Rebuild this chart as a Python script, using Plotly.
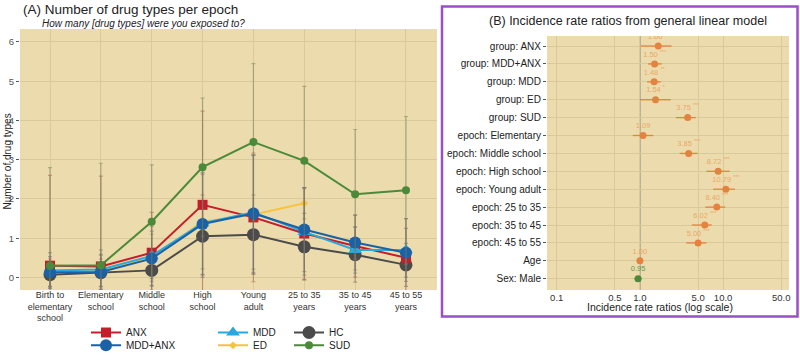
import plotly.graph_objects as go

# ---------------- Panel A data ----------------
epochs = ["Birth to<br>elementary<br>school", "Elementary<br>school", "Middle<br>school",
          "High<br>school", "Young<br>adult", "25 to 35<br>years", "35 to 45<br>years",
          "45 to 55<br>years"]

anx_mean = [0.30, 0.28, 0.63, 1.85, 1.53, 1.12, 0.80, 0.50]
anx_sd = [2.30, 2.30, 1.03, 2.39, 1.64, 1.17, 0.79, 1.00]

mddanx_mean = [0.13, 0.14, 0.48, 1.36, 1.63, 1.22, 0.89, 0.63]
mddanx_sd = [0.40, 0.45, 0.70, 1.30, 1.50, 1.07, 0.70, 0.62]

mdd_mean = [0.18, 0.20, 0.55, 1.38, 1.66, 1.16, 0.70, 0.70]
mdd_sd = [0.45, 0.50, 0.75, 1.30, 1.45, 1.10, 0.59, 0.80]

ed_mean = [0.12, 0.16, 0.50, 1.42, 1.60, 1.89, None, None]
ed_sd = [0.35, 0.40, 0.60, 1.20, 1.50, 0.40, None, None]

hc_mean = [0.07, 0.12, 0.18, 1.05, 1.09, 0.78, 0.58, 0.32]
hc_sd = [0.30, 0.35, 0.50, 1.05, 1.01, 0.85, 0.70, 0.55]

sud_mean = [0.30, 0.31, 1.42, 2.81, 3.45, 2.97, 2.12, 2.22]
sud_sd = [2.50, 2.60, 1.45, 1.76, 2.00, 1.90, 1.65, 1.88]

y_ticks_a = [0, 1, 2, 3, 4, 5, 6]

# ---------------- Panel B data ----------------
irr_terms = ["group: ANX", "group: MDD+ANX", "group: MDD", "group: ED", "group: SUD",
             "epoch: Elementary", "epoch: Middle school", "epoch: High school",
             "epoch: Young adult", "epoch: 25 to 35", "epoch: 35 to 45", "epoch: 45 to 55",
             "Age", "Sex: Male"]
irr_est = [1.66, 1.50, 1.48, 1.54, 3.75, 1.09, 3.85, 8.72, 10.79, 8.40, 6.02, 5.00, 1.00, 0.95]
irr_low = [1.02, 1.25, 1.22, 1.00, 2.70, 0.82, 3.00, 6.30, 7.60, 6.10, 4.20, 3.60, 0.97, 0.85]
irr_high = [2.40, 1.83, 1.78, 2.35, 4.70, 1.45, 4.95, 12.0, 13.9, 10.6, 7.30, 6.30, 1.03, 1.06]
irr_sig = ["**", "***", "**", "*", "***", "", "***", "***", "***", "***", "***", "***", "", ""]
irr_ticks = [0.1, 0.5, 1.0, 5.0, 10.0, 50.0]
irr_ticktext = ["0.1", "0.5", "1.0", "5.0", "10.0", "50.0"]

W, H = 800, 362
FONT = "Liberation Sans, Arial, sans-serif"
BG = "#ecdcad"
GRID = "#d9c99b"


def px(x):
    return x / W


def py(y):
    return 1 - y / H


fig = go.Figure()

series = [
    # name, mean, sd, color, symbol, size, error color, legend
    ("ED", ed_mean, ed_sd, "#f6c340", "diamond", 6, "rgba(150,140,100,0.55)", "legend4"),
    ("HC", hc_mean, hc_sd, "#4b4b4b", "circle", 13, "rgba(115,110,100,0.55)", "legend5"),
    ("ANX", anx_mean, anx_sd, "#c41e2a", "square", 10, "rgba(165,95,80,0.55)", "legend"),
    ("MDD", mdd_mean, mdd_sd, "#29a8df", "triangle-up", 12, "rgba(120,125,120,0.55)", "legend3"),
    ("MDD+ANX", mddanx_mean, mddanx_sd, "#1b61a6", "circle", 12, "rgba(115,115,115,0.55)", "legend2"),
    ("SUD", sud_mean, sud_sd, "#4b8a3b", "circle", 8, "rgba(120,130,95,0.55)", "legend6"),
]

for name, mean, sd, color, symbol, size, ecol, leg in series:
    fig.add_trace(go.Scatter(
        x=epochs, y=mean, name=name, mode="lines+markers",
        line=dict(color=color, width=2),
        marker=dict(color=color, symbol=symbol, size=size),
        error_y=dict(type="data", array=sd, visible=True, color=ecol, thickness=1.2, width=2),
        xaxis="x", yaxis="y", legend=leg, connectgaps=False,
    ))

# Panel B points
pt_colors = ["#e5823f"] * (len(irr_terms) - 1) + ["#4b8a3b"]
lbl_colors = ["#eba768"] * (len(irr_terms) - 1) + ["#5f9a4f"]
labels = [f"{v:.2f}" + (f" <sup>{s}</sup>" if s else "") for v, s in zip(irr_est, irr_sig)]
fig.add_trace(go.Scatter(
    x=irr_est, y=irr_terms, mode="markers+text", showlegend=False,
    marker=dict(color=pt_colors, size=7),
    text=labels, textposition="top center",
    textfont=dict(size=7.5, color=lbl_colors, family=FONT),
    error_x=dict(type="data", symmetric=False,
                 array=[h - e for h, e in zip(irr_high, irr_est)],
                 arrayminus=[e - l for e, l in zip(irr_est, irr_low)],
                 color="#e5823f", thickness=1.3, width=0),
    xaxis="x2", yaxis="y2",
))

leg_common = dict(bgcolor="rgba(0,0,0,0)", font=dict(size=10, family=FONT, color="#222"),
                  xanchor="left", yanchor="middle", orientation="v", itemwidth=30)
r1, r2 = py(332.5), py(345.3)
c1, c2, c3 = px(86), px(213), px(289)

fig.update_layout(
    width=W, height=H,
    margin=dict(l=0, r=0, t=0, b=0, autoexpand=False),
    paper_bgcolor="white",
    plot_bgcolor=BG,
    font=dict(family=FONT, size=10, color="#333"),
    legend=dict(x=c1, y=r1, **leg_common),
    legend2=dict(x=c1, y=r2, **leg_common),
    legend3=dict(x=c2, y=r1, **leg_common),
    legend4=dict(x=c2, y=r2, **leg_common),
    legend5=dict(x=c3, y=r1, **leg_common),
    legend6=dict(x=c3, y=r2, **leg_common),
    xaxis=dict(domain=[px(20), px(437)], range=[-0.59, 7.61], type="category",
               showgrid=True, gridcolor=GRID, gridwidth=1, ticks="",
               tickfont=dict(size=9, color="#333"), zeroline=False,
               anchor="free", position=py(288), automargin=False),
    yaxis=dict(domain=[py(290), py(29)], range=[-0.32, 6.33], tickvals=y_ticks_a,
               showgrid=True, gridcolor=GRID, gridwidth=1, ticks="outside", ticklen=3,
               tickcolor="#555", tickfont=dict(size=9.5, color="#555"), zeroline=False,
               anchor="x", automargin=False),
    xaxis2=dict(domain=[px(547), px(789)], type="log", range=[-1.117, 1.792],
                tickvals=irr_ticks, ticktext=irr_ticktext, showgrid=True, gridcolor=GRID,
                ticks="", tickfont=dict(size=9.5, color="#333"), zeroline=False, anchor="y2",
                automargin=False),
    yaxis2=dict(domain=[py(290), py(36)], type="category", categoryorder="array",
                categoryarray=irr_terms, range=[13.63, -0.56], showgrid=True, gridcolor=GRID,
                ticks="outside", ticklen=3, tickcolor="#555",
                tickfont=dict(size=10, color="#222"), zeroline=False, anchor="x2",
                automargin=False),
    shapes=[
        dict(type="line", xref="x2", yref="y2 domain", x0=1, x1=1, y0=0, y1=1,
             line=dict(color="#8c8c8c", width=1.2), layer="below"),
        dict(type="rect", xref="paper", yref="paper", x0=px(442), x1=px(797.5),
             y0=py(316.5), y1=py(6.5), line=dict(color="#9a4fc6", width=2.5)),
    ],
    annotations=[
        dict(text="(A) Number of drug types per epoch", x=px(21), y=py(9.5), xref="paper",
             yref="paper", xanchor="left", yanchor="middle", showarrow=False,
             font=dict(size=13.5, color="#222")),
        dict(text="<i>How many [drug types] were you exposed to?</i>", x=px(40), y=py(23),
             xref="paper", yref="paper", xanchor="left", yanchor="middle", showarrow=False,
             font=dict(size=10, color="#222")),
        dict(text="Number of drug types", x=px(6.5), y=py(162), xref="paper", yref="paper",
             textangle=-90, showarrow=False, xanchor="center", yanchor="middle",
             font=dict(size=10, color="#222")),
        dict(text="(B) Incidence rate ratios from general linear model", x=px(627.5),
             y=py(21.5), xref="paper", yref="paper", xanchor="center", yanchor="middle",
             showarrow=False, font=dict(size=12.5, color="#222")),
        dict(text="Incidence rate ratios (log scale)", x=px(660), y=py(307), xref="paper",
             yref="paper", xanchor="center", yanchor="middle", showarrow=False,
             font=dict(size=10.5, color="#222")),
    ],
)

# Remove the browser's default 8px body margin so the figure sits at the window origin.
fig.write_html("out.html", config={"displayModeBar": False},
               post_script="document.body.style.margin='0px';")
